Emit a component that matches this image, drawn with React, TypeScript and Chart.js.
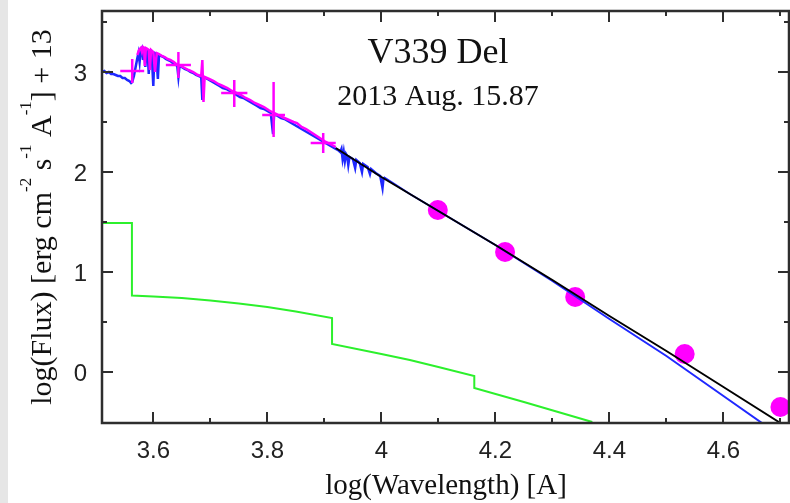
import { useEffect, useRef } from 'react';
import { Chart, registerables } from 'chart.js';

Chart.register(...registerables);

// ---------- data ----------
// axis ranges
const X_MIN = 3.51;
const X_MAX = 4.715;
const Y_MIN = -0.51;
const Y_MAX = 3.61;

// ticks
const xMajorTicks = [3.6, 3.8, 4.0, 4.2, 4.4, 4.6];
const xTickLabels = ['3.6', '3.8', '4', '4.2', '4.4', '4.6'];
const xMinorTicks = [3.7, 3.9, 4.1, 4.3, 4.5, 4.7];
const yMajorTicks = [0, 1, 2, 3];
const yTickLabels = ['0', '1', '2', '3'];
const yMinorTicks = [0.5, 1.5, 2.5, 3.5];

// observed blue spectrum
const blueSpecX = [
  3.510, 3.514, 3.518, 3.522, 3.526, 3.530, 3.534, 3.538, 3.542, 3.546,
  3.550, 3.554, 3.558, 3.561, 3.563, 3.566, 3.569, 3.572, 3.574, 3.576,
  3.578, 3.580, 3.582, 3.584, 3.586, 3.588, 3.590, 3.592, 3.594, 3.597,
  3.600, 3.602, 3.605, 3.608, 3.610, 3.614, 3.618, 3.622, 3.626, 3.630,
  3.634, 3.638, 3.642, 3.644, 3.646, 3.650, 3.655, 3.660, 3.665, 3.670,
  3.675, 3.680, 3.684, 3.686, 3.688, 3.692, 3.698, 3.704, 3.710, 3.716,
  3.722, 3.728, 3.734, 3.740, 3.746, 3.752, 3.758, 3.764, 3.770, 3.776,
  3.782, 3.788, 3.794, 3.800, 3.806, 3.810, 3.812, 3.818, 3.824, 3.830,
  3.836, 3.842, 3.848, 3.854, 3.860, 3.866, 3.872, 3.878, 3.884, 3.890,
  3.896, 3.902, 3.908, 3.914, 3.920, 3.924, 3.928, 3.930, 3.932, 3.934,
  3.936, 3.938, 3.940, 3.942, 3.944, 3.950, 3.954, 3.956, 3.962, 3.966,
  3.968, 3.976, 3.980, 3.982, 3.990, 3.998, 4.002, 4.004,
];
const blueSpecY = [
  3.00, 3.01, 2.99, 3.00, 2.98, 2.98, 2.97, 2.96, 2.96, 2.94,
  2.94, 2.92, 2.91, 2.89, 2.90, 2.96, 3.05, 3.14, 3.19, 3.10,
  3.22, 3.24, 3.12, 3.23, 3.05, 3.22, 3.21, 2.98, 3.21, 3.20,
  2.86, 3.19, 3.18, 2.93, 3.17, 3.16, 3.15, 3.13, 3.12, 3.11,
  3.09, 3.08, 3.06, 2.95, 3.06, 3.05, 3.03, 3.02, 3.00, 2.99,
  2.97, 2.96, 2.95, 2.72, 2.95, 2.94, 2.92, 2.90, 2.88, 2.86,
  2.84, 2.83, 2.81, 2.79, 2.77, 2.75, 2.74, 2.72, 2.70, 2.68,
  2.66, 2.64, 2.63, 2.61, 2.59, 2.38, 2.58, 2.56, 2.54, 2.53,
  2.51, 2.49, 2.47, 2.45, 2.43, 2.41, 2.39, 2.37, 2.35, 2.33,
  2.31, 2.29, 2.27, 2.25, 2.23, 2.22, 2.20, 2.23, 2.13, 2.20,
  2.11, 2.18, 2.16, 2.07, 2.15, 2.13, 2.04, 2.12, 2.09, 2.00,
  2.08, 2.05, 1.98, 2.03, 1.99, 1.96, 1.84, 1.95,
];

// blue model continuation
const blueModelX = [4.004, 4.05, 4.1, 4.2, 4.3, 4.4, 4.5, 4.6, 4.7];
const blueModelY = [1.95, 1.78, 1.61, 1.27, 0.91, 0.53, 0.16, -0.24, -0.64];

// magenta spectrum
const magSpecX = [
  3.572, 3.575, 3.578, 3.580, 3.582, 3.584, 3.585, 3.587, 3.590, 3.592,
  3.594, 3.596, 3.600, 3.603, 3.606, 3.610, 3.615, 3.620, 3.625, 3.630,
  3.636, 3.640, 3.648, 3.655, 3.662, 3.670, 3.678, 3.684, 3.686, 3.688,
  3.690, 3.698, 3.706, 3.714, 3.722, 3.730, 3.738, 3.746, 3.754, 3.762,
  3.770, 3.778, 3.786, 3.794, 3.802, 3.808, 3.816, 3.822, 3.830, 3.838,
  3.846, 3.852, 3.860, 3.868, 3.876, 3.884, 3.892, 3.900, 3.910, 3.920,
];
const magSpecY = [
  3.17, 3.22, 3.24, 3.20, 3.25, 3.24, 3.06, 3.24, 3.23, 3.22,
  3.02, 3.22, 3.20, 3.00, 3.19, 3.18, 3.16, 3.15, 3.13, 3.12,
  3.10, 3.08, 3.06, 3.04, 3.02, 3.00, 2.97, 2.96, 3.12, 2.70,
  2.95, 2.93, 2.91, 2.88, 2.86, 2.84, 2.81, 2.79, 2.77, 2.74,
  2.72, 2.69, 2.67, 2.65, 2.62, 2.60, 2.58, 2.56, 2.54, 2.52,
  2.50, 2.49, 2.45, 2.43, 2.40, 2.37, 2.34, 2.31, 2.28, 2.25,
];

// magenta photometric crosses (error bars)
const crossX = [3.563, 3.644, 3.742, 3.811, 3.898];
const crossY = [3.01, 3.07, 2.79, 2.57, 2.29];
const crossXErr = [0.021, 0.022, 0.023, 0.020, 0.022];
const crossYLo = [2.89, 2.94, 2.65, 2.35, 2.19];
const crossYHi = [3.13, 3.20, 2.92, 2.90, 2.39];

// magenta photometric circles
const circleX = [4.099, 4.217, 4.340, 4.532, 4.700];
const circleY = [1.62, 1.20, 0.75, 0.18, -0.35];

// black model line
const blackX = [3.92, 4.0, 4.1, 4.2, 4.3, 4.4, 4.5, 4.6, 4.7, 4.72];
const blackY = [2.24, 1.95, 1.61, 1.27, 0.92, 0.56, 0.21, -0.15, -0.51, -0.58];

// green component
const greenX = [3.51, 3.5625, 3.5625, 3.60, 3.65, 3.70, 3.75, 3.80, 3.85, 3.9135, 3.9135, 4.0, 4.05, 4.10, 4.163, 4.163, 4.25, 4.358, 4.37];
const greenY = [1.49, 1.49, 0.765, 0.755, 0.74, 0.715, 0.685, 0.65, 0.605, 0.54, 0.28, 0.18, 0.12, 0.05, -0.04, -0.16, -0.30, -0.48, -0.50];

const TITLE1 = 'V339 Del';
const TITLE2 = '2013 Aug. 15.87';
const X_TITLE = 'log(Wavelength) [A]';

// ---------- helpers ----------
const xy = (xs: number[], ys: number[]) => xs.map((x, i) => ({ x, y: ys[i] }));

const BLUE = '#1f28ff';
const MAGENTA = '#ff00ff';
const GREEN = '#2cf02c';

function lineDs(label: string, data: any[], color: string, width: number, order: number) {
  return {
    label,
    data,
    showLine: true,
    borderColor: color,
    backgroundColor: color,
    borderWidth: width,
    pointRadius: 0,
    tension: 0,
    spanGaps: false,
    order,
  };
}

const framePlugin = {
  id: 'framePlugin',
  beforeDraw(chart: any) {
    const ctx = chart.ctx;
    ctx.save();
    ctx.fillStyle = '#ffffff';
    ctx.fillRect(0, 0, chart.width, chart.height);
    ctx.fillStyle = '#e6e6e6';
    ctx.fillRect(0, 0, 8, chart.height);
    ctx.restore();
  },
  afterDraw(chart: any) {
    const ctx = chart.ctx;
    const { left, right, top, bottom } = chart.chartArea;
    const xs = chart.scales.x;
    const ys = chart.scales.y;
    ctx.save();
    ctx.strokeStyle = '#2e2e2e';
    ctx.lineWidth = 2;
    ctx.lineCap = 'butt';
    ctx.beginPath();
    const MAJ = 11;
    const MIN = 5;
    xMajorTicks.forEach((v) => {
      const p = Math.round(xs.getPixelForValue(v));
      ctx.moveTo(p, bottom); ctx.lineTo(p, bottom - MAJ);
      ctx.moveTo(p, top); ctx.lineTo(p, top + MAJ);
    });
    xMinorTicks.forEach((v) => {
      const p = Math.round(xs.getPixelForValue(v));
      ctx.moveTo(p, bottom); ctx.lineTo(p, bottom - MIN);
      ctx.moveTo(p, top); ctx.lineTo(p, top + MIN);
    });
    yMajorTicks.forEach((v) => {
      const p = Math.round(ys.getPixelForValue(v));
      ctx.moveTo(left, p); ctx.lineTo(left + MAJ, p);
      ctx.moveTo(right, p); ctx.lineTo(right - MAJ, p);
    });
    yMinorTicks.forEach((v) => {
      const p = Math.round(ys.getPixelForValue(v));
      ctx.moveTo(left, p); ctx.lineTo(left + MIN, p);
      ctx.moveTo(right, p); ctx.lineTo(right - MIN, p);
    });
    ctx.stroke();
    ctx.lineWidth = 2.5;
    ctx.strokeRect(left, top, right - left, bottom - top);

    // tick labels
    ctx.fillStyle = '#222222';
    ctx.font = '24px "Liberation Sans"';
    ctx.textAlign = 'center';
    ctx.textBaseline = 'alphabetic';
    xMajorTicks.forEach((v, i) => {
      ctx.fillText(xTickLabels[i], xs.getPixelForValue(v), 458);
    });
    ctx.textAlign = 'right';
    yMajorTicks.forEach((v, i) => {
      ctx.fillText(yTickLabels[i], 87, ys.getPixelForValue(v) + 9);
    });

    // x title
    ctx.fillStyle = '#111111';
    ctx.font = '29px "Liberation Serif"';
    ctx.textAlign = 'center';
    ctx.fillText(X_TITLE, 446, 494);

    // in-plot titles
    ctx.font = '36px "Liberation Serif"';
    ctx.fillText(TITLE1, 438, 63);
    ctx.font = '30px "Liberation Serif"';
    ctx.fillText(TITLE2, 438, 105);

    // y title with superscripts, rotated
    const parts: [string, boolean][] = [
      ['log(Flux) [erg cm', false],
      ['-2', true],
      [' s', false],
      ['-1', true],
      [' A', false],
      ['-1', true],
      ['] + 13', false],
    ];
    const mainFont = '30px "Liberation Serif"';
    const supFont = '17px "Liberation Serif"';
    let total = 0;
    const widths = parts.map(([t, sup]) => {
      ctx.font = sup ? supFont : mainFont;
      const w = ctx.measureText(t).width;
      total += w;
      return w;
    });
    ctx.translate(51, (top + bottom) / 2);
    ctx.rotate(-Math.PI / 2);
    ctx.textAlign = 'left';
    let cx = -total / 2;
    parts.forEach(([t, sup], i) => {
      ctx.font = sup ? supFont : mainFont;
      ctx.fillText(t, cx, sup ? -20 : 0);
      cx += widths[i];
    });
    ctx.restore();
  },
};

export default function App() {
  const ref = useRef<HTMLCanvasElement | null>(null);

  useEffect(() => {
    document.body.style.margin = '0';
    const canvas = ref.current;
    if (!canvas) return;

    const crossDatasets: any[] = [];
    crossX.forEach((cx, i) => {
      crossDatasets.push(
        lineDs('crossH' + i, [
          { x: cx - crossXErr[i], y: crossY[i] },
          { x: cx + crossXErr[i], y: crossY[i] },
        ], MAGENTA, 2.5, 1)
      );
      crossDatasets.push(
        lineDs('crossV' + i, [
          { x: cx, y: crossYLo[i] },
          { x: cx, y: crossYHi[i] },
        ], MAGENTA, 2.5, 1)
      );
    });

    const chart = new Chart(canvas, {
      type: 'scatter',
      data: {
        datasets: [
          lineDs('black', xy(blackX, blackY), '#000000', 2, 0),
          ...crossDatasets,
          lineDs('magentaSpec', xy(magSpecX, magSpecY), MAGENTA, 2.5, 2),
          lineDs('blueSpec', xy(blueSpecX, blueSpecY), BLUE, 2.5, 3),
          lineDs('blueModel', xy(blueModelX, blueModelY), BLUE, 2, 3),
          lineDs('green', xy(greenX, greenY), GREEN, 2, 4),
          {
            label: 'circles',
            data: xy(circleX, circleY),
            showLine: false,
            pointRadius: 10,
            pointHoverRadius: 10,
            pointBackgroundColor: MAGENTA,
            pointBorderWidth: 0,
            backgroundColor: MAGENTA,
            borderColor: MAGENTA,
            order: 5,
          },
        ],
      },
      options: {
        animation: false,
        responsive: false,
        devicePixelRatio: 1,
        events: [],
        layout: { autoPadding: false, padding: { left: 102, top: 11, right: 1, bottom: 80 } },
        scales: {
          x: { type: 'linear', min: X_MIN, max: X_MAX, display: false },
          y: { type: 'linear', min: Y_MIN, max: Y_MAX, display: false },
        },
        plugins: {
          legend: { display: false },
          tooltip: { enabled: false },
          title: { display: false },
        },
      },
      plugins: [framePlugin],
    });
    return () => chart.destroy();
  }, []);

  return (
    <div style={{ position: 'absolute', left: 0, top: 0, width: 790, height: 503 }}>
      <canvas ref={ref} width={790} height={503} style={{ width: 790, height: 503 }} />
    </div>
  );
}
